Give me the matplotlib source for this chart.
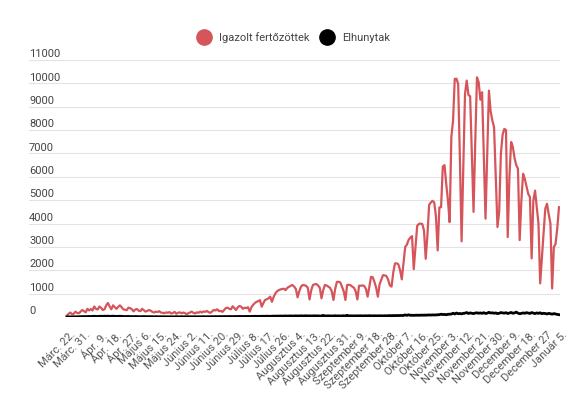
import numpy as np
import matplotlib
matplotlib.use("Agg")
import matplotlib.pyplot as plt
from matplotlib.lines import Line2D
from matplotlib.transforms import ScaledTranslation, blended_transform_factory

plt.rcParams['font.family'] = ['Roboto', 'DejaVu Sans']

# x tick labels, one every 9 days
labels = ["Márc. 22.", "Márc. 31.", "Ápr. 9.", "Ápr. 18.", "Ápr. 27.", "Május 6.",
          "Május 15.", "Május 24.", "Június 2.", "Június 11.", "Június 20.", "Június 29.",
          "Július 8.", "Július 17.", "Július 26.", "Augusztus 4.", "Augusztus 13.",
          "Augusztus 22.", "Augusztus 31.", "Szeptember 9.", "Szeptember 18.",
          "Szeptember 28.", "Október 7.", "Október 16.", "Október 25.", "November 3.",
          "November 12.", "November 21.", "November 30.", "December 9.", "December 18.",
          "December 27", "Január 5."]

# daily confirmed cases
cases = [
    60, 140, 190, 120, 140, 230, 170,
    160, 230, 300, 250, 200, 350, 280,
    340, 280, 450, 350, 320, 450, 390,
    300, 330, 500, 600, 450, 330, 500,
    420, 350, 430, 500, 420, 330, 310,
    290, 400, 380, 330, 240, 320, 340,
    270, 250, 350, 290, 230, 260, 300,
    270, 220, 190, 230, 210, 250, 190,
    180, 160, 200, 180, 210, 150, 170,
    220, 140, 180, 200, 160, 190, 170,
    120, 160, 190, 230, 180, 150, 200,
    180, 230, 190, 240, 220, 260, 200,
    180, 240, 300, 280, 330, 250, 260,
    220, 300, 380, 400, 350, 330, 460,
    380, 300, 420, 470, 440, 350, 400,
    380, 420, 230, 420, 520, 600, 650,
    680, 720, 440, 600, 730, 760, 800,
    870, 650, 860, 1010, 1100, 1150, 1180,
    1200, 1210, 1150, 1250, 1290, 1340, 1370,
    1300, 1200, 840, 1100, 1300, 1370, 1360,
    1330, 1250, 750, 1150, 1370, 1400, 1410,
    1350, 1250, 800, 1150, 1370, 1350, 1300,
    1250, 1100, 730, 1200, 1500, 1510, 1480,
    1300, 1100, 730, 1370, 1380, 1360, 1300,
    1250, 1100, 750, 1340, 1340, 1350, 1330,
    1200, 870, 1300, 1720, 1700, 1500, 1250,
    870, 1400, 1600, 1790, 1780, 1750, 1600,
    1350, 1300, 1900, 2290, 2300, 2250, 2000,
    1610, 2300, 3000, 3100, 3300, 3400, 3460,
    2050, 3000, 3900, 3980, 4000, 3980, 3700,
    2490, 3500, 4800, 4900, 4970, 4900, 4300,
    2850, 4690, 4700, 6440, 6500, 5700, 5000,
    4060, 7700, 8400, 10190, 10200, 9970, 6800,
    3240, 6500, 9550, 10120, 9500, 9450, 7000,
    4500, 7500, 10260, 10050, 9300, 9620, 7000,
    4210, 7000, 9690, 8800, 8410, 8130, 6000,
    3850, 4500, 7000, 7800, 8050, 8000, 3420,
    6000, 7490, 7280, 6800, 6500, 6350, 3290,
    5000, 6130, 5910, 5600, 5270, 5130, 2510,
    4990, 5410, 4700, 4000, 1440, 2540, 3600,
    4640, 4850, 4400, 4000, 1220, 2990, 3130,
    3800, 4700,
]

# daily deaths
deaths = [
    2, 3, 5, 4, 6, 8, 10,
    12, 15, 18, 20, 16, 22, 25,
    20, 28, 30, 25, 22, 30, 32,
    28, 35, 30, 38, 25, 30, 35,
    30, 25, 28, 32, 26, 20, 18,
    22, 25, 18, 20, 16, 22, 18,
    15, 12, 18, 20, 14, 12, 16,
    14, 10, 12, 15, 11, 9, 13,
    10, 8, 12, 9, 11, 7, 10,
    8, 12, 10, 9, 14, 8, 11,
    9, 12, 10, 13, 8, 10, 12,
    11, 9, 13, 15, 10, 12, 14,
    12, 15, 13, 18, 14, 16, 19,
    15, 18, 20, 16, 22, 19, 17,
    20, 23, 18, 25, 21, 19, 24,
    22, 26, 20, 28, 24, 30, 27,
    25, 30, 28, 33, 30, 35, 31,
    29, 34, 38, 35, 40, 36, 42,
    38, 41, 45, 39, 43, 47, 40,
    44, 48, 42, 46, 50, 44, 47,
    52, 45, 49, 43, 47, 51, 46,
    48, 42, 45, 70, 44, 47, 50,
    46, 43, 48, 52, 45, 49, 44,
    47, 53, 48, 72, 46, 50, 47,
    49, 45, 51, 48, 53, 47, 50,
    52, 48, 55, 50, 47, 53, 49,
    51, 56, 52, 48, 54, 50, 57,
    60, 55, 62, 58, 64, 60, 66,
    63, 68, 90, 70, 95, 72, 74,
    70, 75, 78, 72, 80, 76, 82,
    78, 85, 88, 82, 90, 86, 92,
    95, 100, 120, 105, 110, 98, 115,
    118, 125, 160, 130, 170, 140, 150,
    135, 155, 165, 190, 150, 175, 160,
    145, 170, 180, 160, 175, 155, 185,
    150, 165, 200, 170, 180, 160, 175,
    145, 160, 190, 175, 165, 185, 150,
    170, 195, 160, 175, 210, 165, 140,
    155, 175, 160, 185, 170, 150, 190,
    165, 145, 175, 155, 180, 140, 160,
    150, 130, 155, 140, 120, 145, 130,
    110, 100,
]

yticks = list(range(0, 11001, 1000))

RED = '#d6555b'
days = np.arange(len(cases))

fig = plt.figure(figsize=(5.75, 4.07), dpi=100)
ax = fig.add_axes([29 / 575, 1 - 317 / 407, 531 / 575, 257 / 407])

ax.plot(days, cases, color=RED, lw=1.6, solid_joinstyle='round', zorder=3)
ax.plot(days, deaths, color='black', lw=2.0, solid_joinstyle='round', zorder=4)

ax.set_xlim(-22.2, 288.6)
ax.set_ylim(0, 11000)
for s in ax.spines.values():
    s.set_visible(False)

# horizontal grid with labels sitting above each line
ax.set_yticks(yticks)
ax.yaxis.grid(True, color='#e3e3e3', lw=0.8)
ax.tick_params(axis='y', length=0, labelleft=False)
trans = blended_transform_factory(ax.transAxes, ax.transData)
for v in yticks:
    ax.text(0.0, v + 120, str(v), transform=trans, ha='left', va='baseline',
            fontsize=8, color='#444444')

ax.set_xticks(days[::9])
ax.set_xticklabels(labels, rotation=45, ha='right', rotation_mode='anchor',
                   fontsize=8, color='#555555')
ax.tick_params(axis='x', length=0, pad=9)
off = ScaledTranslation(3 / 100, 0, fig.dpi_scale_trans)
for lab in ax.get_xticklabels():
    lab.set_transform(lab.get_transform() + off)

handles = [Line2D([], [], marker='o', ls='none', color=RED, markersize=11),
           Line2D([], [], marker='o', ls='none', color='black', markersize=11)]
fig.legend(handles, ['Igazolt fertőzöttek', 'Elhunytak'], loc='center',
           bbox_to_anchor=(0.507, 0.907), ncol=2, frameon=False, fontsize=8,
           handletextpad=0.3, columnspacing=0.6, labelcolor='#444444')

fig.savefig('out.png', dpi=100)
